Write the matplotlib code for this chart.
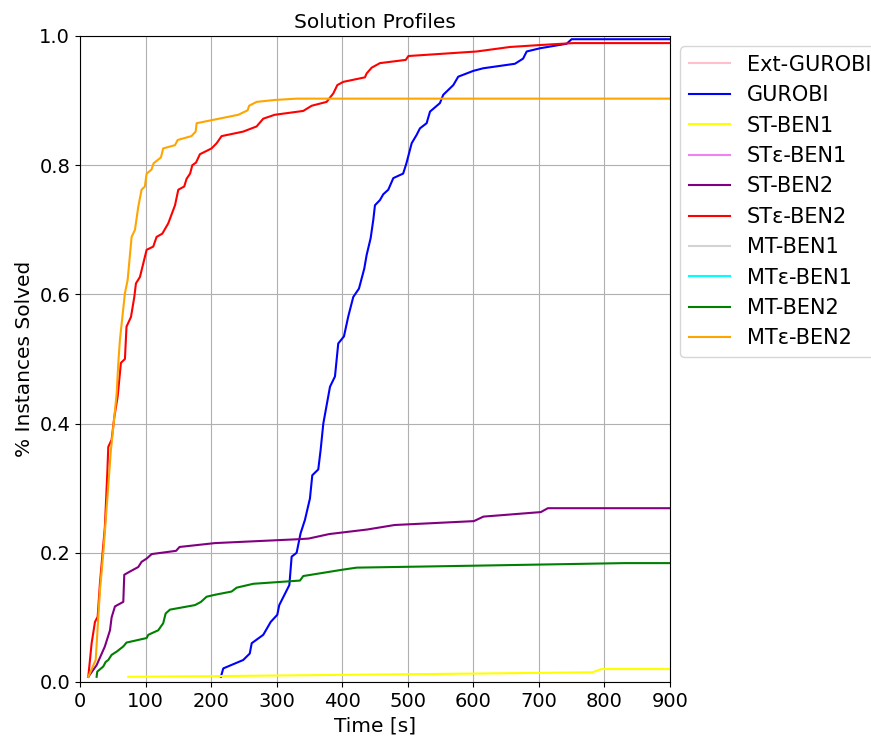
import matplotlib
matplotlib.use("Agg")
import matplotlib.pyplot as plt

# cumulative solve profiles: (time [s], fraction of instances solved)
ext_gurobi_t = []
ext_gurobi_y = []

gurobi_t = [215, 218.6, 249, 259, 262, 279.6, 291, 301, 304, 319.4, 322.9, 330.5,
            336.5, 343.2, 350.8, 354.4, 363.5, 367.1, 371.2, 381.4, 389, 394, 402.7,
            409.3, 416.9, 425.6, 433.7, 437.3, 443.4, 447.4, 450, 457.6, 462.7, 470.3,
            478, 493, 498, 506, 513.6, 518.6, 528.8, 534, 549, 554.2, 569.5, 577, 600,
            615, 663.5, 676, 681.4, 701.7, 742.4, 750, 900]
gurobi_y = [0.008, 0.021, 0.034, 0.044, 0.06, 0.073, 0.093, 0.104, 0.119, 0.15, 0.194,
            0.2, 0.23, 0.251, 0.284, 0.32, 0.329, 0.359, 0.4, 0.457, 0.473, 0.524, 0.535,
            0.566, 0.596, 0.609, 0.64, 0.661, 0.687, 0.715, 0.738, 0.746, 0.755, 0.762,
            0.78, 0.787, 0.803, 0.834, 0.847, 0.857, 0.865, 0.883, 0.896, 0.909, 0.924,
            0.937, 0.946, 0.95, 0.957, 0.965, 0.976, 0.981, 0.988, 0.995, 0.995]

st_ben1_t = [73.7, 200, 400, 600, 782, 795, 900]
st_ben1_y = [0.008, 0.009, 0.011, 0.013, 0.015, 0.020, 0.020]

ste_ben1_t = []
ste_ben1_y = []

st_ben2_t = [12.7, 25.4, 38, 45.8, 48.3, 53.4, 66.1, 67.6, 76.3, 89, 94, 101.7, 109.4,
             146.6, 151.9, 206, 333, 348.8, 380.3, 438, 480, 600.8, 615.5, 703, 713.7, 900]
st_ben2_y = [0.008, 0.026, 0.055, 0.08, 0.10, 0.117, 0.124, 0.166, 0.171, 0.178, 0.186,
             0.191, 0.198, 0.203, 0.209, 0.215, 0.221, 0.222, 0.229, 0.236, 0.243, 0.249,
             0.256, 0.263, 0.269, 0.269]

ste_ben2_t = [12.7, 17.8, 22.9, 27, 30.5, 38, 41.7, 43.2, 48.3, 52.4, 57.5, 62.5, 68.6,
              71, 77.8, 82.9, 85.4, 91.5, 96.6, 101.7, 111.8, 116.9, 125.6, 134.7, 145,
              150, 159, 162.7, 168, 171.4, 177, 183, 200.8, 208.5, 216, 249, 269.5, 279.6,
              297, 340.6, 353.4, 376.3, 382.4, 386.4, 392.6, 401.7, 434.7, 437.3, 445,
              457.6, 497, 501, 605, 656, 701.7, 752.5, 900]
ste_ben2_y = [0.008, 0.06, 0.093, 0.101, 0.153, 0.24, 0.323, 0.364, 0.375, 0.41, 0.442,
              0.494, 0.50, 0.55, 0.565, 0.596, 0.617, 0.627, 0.648, 0.669, 0.674, 0.689,
              0.694, 0.71, 0.738, 0.762, 0.767, 0.779, 0.787, 0.80, 0.804, 0.817, 0.826,
              0.834, 0.845, 0.852, 0.86, 0.872, 0.878, 0.884, 0.892, 0.898, 0.906, 0.911,
              0.924, 0.929, 0.936, 0.942, 0.951, 0.958, 0.963, 0.969, 0.976, 0.983, 0.986,
              0.989, 0.989]

mt_ben1_t = []
mt_ben1_y = []

mte_ben1_t = []
mte_ben1_y = []

mt_ben2_t = [25.4, 26.4, 35.6, 39.2, 43.2, 48.3, 56, 66.1, 71, 101.7, 104.2, 119.4, 127,
             130.7, 137.3, 175.4, 184.6, 193.2, 206, 231.3, 239, 264.4, 335.6, 340.6,
             401.7, 422, 600, 830, 900]
mt_ben2_y = [0.008, 0.016, 0.024, 0.031, 0.034, 0.042, 0.047, 0.055, 0.061, 0.068, 0.073,
             0.08, 0.091, 0.106, 0.112, 0.119, 0.124, 0.132, 0.135, 0.14, 0.146, 0.152,
             0.157, 0.164, 0.174, 0.177, 0.180, 0.184, 0.184]

mte_ben2_t = [12.7, 24, 30.5, 35.6, 47.3, 52.4, 56, 58.5, 61, 68.6, 72.7, 78.8, 83.9, 89,
              94, 99, 101.7, 109, 112.4, 123.5, 127, 145, 149, 170, 176.5, 178, 241.5,
              255.8, 258, 269.5, 297.5, 330.5, 900]
mte_ben2_y = [0.008, 0.034, 0.142, 0.2, 0.36, 0.41, 0.447, 0.494, 0.53, 0.602, 0.622,
              0.689, 0.70, 0.736, 0.762, 0.767, 0.787, 0.793, 0.803, 0.812, 0.826, 0.831,
              0.839, 0.845, 0.852, 0.865, 0.878, 0.885, 0.892, 0.898, 0.901, 0.903, 0.903]

labels = ["Ext-GUROBI", "GUROBI", "ST-BEN1", "STε-BEN1", "ST-BEN2", "STε-BEN2",
          "MT-BEN1", "MTε-BEN1", "MT-BEN2", "MTε-BEN2"]
colors = ["pink", "blue", "yellow", "violet", "purple", "red",
          "lightgray", "cyan", "green", "orange"]
series = [(ext_gurobi_t, ext_gurobi_y), (gurobi_t, gurobi_y), (st_ben1_t, st_ben1_y),
          (ste_ben1_t, ste_ben1_y), (st_ben2_t, st_ben2_y), (ste_ben2_t, ste_ben2_y),
          (mt_ben1_t, mt_ben1_y), (mte_ben1_t, mte_ben1_y), (mt_ben2_t, mt_ben2_y),
          (mte_ben2_t, mte_ben2_y)]

fig = plt.figure(figsize=(8.71, 7.36), dpi=100)
ax = fig.add_axes([0.0918, 0.0734, 0.6774, 0.8777])

for (t, y), label, color in zip(series, labels, colors):
    ax.plot(t, y, color=color, label=label, linewidth=1.5)

ax.set_xlim(0, 900)
ax.set_ylim(0, 1.0)
ax.grid(True)
ax.set_title("Solution Profiles", fontsize=14.5)
ax.set_xlabel("Time [s]", fontsize=14.5)
ax.set_ylabel("% Instances Solved", fontsize=14.5)
ax.tick_params(labelsize=14)
ax.legend(loc="upper left", bbox_to_anchor=(1.0, 1.0), fontsize=15)

fig.savefig("out.png", dpi=100)
plt.close(fig)
